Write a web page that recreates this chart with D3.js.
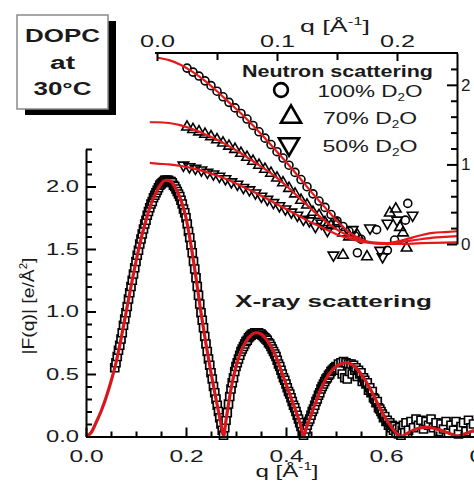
<!DOCTYPE html>
<html><head><meta charset="utf-8">
<script src="https://cdn.jsdelivr.net/npm/d3@7/dist/d3.min.js"></script>
<style>
html,body{margin:0;padding:0;background:#fff;overflow:hidden}
svg{display:block}
text{font-family:"Liberation Sans",Arial,Helvetica,sans-serif;fill:#1a1a1a}
</style></head><body>
<svg id="chart" width="474" height="482"></svg>
<script>
// ---------- DATA ----------
// X-ray form factor |F(q)| data points [q, |F|]
const xrayPoints = [
[.0575,.55],[.0600,.59],[.0625,.64],[.0650,.69],[.0675,.73],[.0700,.78],[.0725,.83],[.0750,.89],[.0775,.94],[.0800,.99],
[.0825,1.04],[.0850,1.10],[.0875,1.15],[.0900,1.20],[.0925,1.25],[.0950,1.30],[.0975,1.35],[.1000,1.40],[.1025,1.45],[.1050,1.49],
[.1075,1.54],[.1100,1.58],[.1125,1.62],[.1150,1.66],[.1175,1.70],[.1200,1.73],[.1225,1.77],[.1250,1.80],[.1275,1.83],[.1300,1.86],
[.1325,1.88],[.1350,1.91],[.1375,1.93],[.1400,1.95],[.1425,1.97],[.1450,1.99],[.1475,2.01],[.1500,2.02],[.1525,2.03],[.1550,2.04],
[.1575,2.05],[.1600,2.05],[.1625,2.05],[.1650,2.05],[.1675,2.04],[.1700,2.04],[.1725,2.03],[.1750,2.01],[.1775,2.00],[.1800,1.98],
[.1825,1.96],[.1850,1.94],[.1875,1.92],[.1900,1.89],[.1925,1.86],[.1950,1.82],[.1975,1.79],[.2000,1.75],[.2025,1.70],[.2050,1.64],
[.2075,1.59],[.2100,1.53],[.2125,1.47],[.2150,1.40],[.2175,1.34],[.2200,1.27],[.2225,1.20],[.2250,1.13],[.2275,1.06],[.2300,0.99],
[.2325,0.93],[.2350,0.87],[.2375,0.80],[.2400,0.74],[.2425,0.68],[.2450,0.62],[.2475,0.57],[.2500,0.51],[.2525,0.46],[.2550,0.40],
[.2575,0.35],[.2600,0.30],[.2625,0.25],[.2650,0.20],[.2675,0.15],[.2700,0.10],[.2725,0.05],[.2750,0.01],[.2775,0.07],[.2800,0.13],
[.2825,0.19],[.2850,0.26],[.2875,0.32],[.2900,0.38],[.2925,0.43],[.2950,0.47],[.2975,0.52],[.3000,0.56],[.3025,0.59],[.3050,0.62],
[.3075,0.65],[.3100,0.68],[.3125,0.70],[.3150,0.72],[.3175,0.74],[.3200,0.76],[.3225,0.77],[.3250,0.79],[.3275,0.80],[.3300,0.81],
[.3325,0.82],[.3350,0.82],[.3375,0.83],[.3400,0.83],[.3425,0.83],[.3450,0.83],[.3475,0.82],[.3500,0.82],[.3525,0.81],[.3550,0.80],
[.3575,0.79],[.3600,0.78],[.3625,0.77],[.3650,0.75],[.3675,0.74],[.3700,0.72],[.3725,0.70],[.3750,0.68],[.3775,0.66],[.3800,0.64],
[.3825,0.61],[.3850,0.58],[.3875,0.56],[.3900,0.53],[.3925,0.50],[.3950,0.47],[.3975,0.45],[.4000,0.42],[.4025,0.39],[.4050,0.36],
[.4075,0.34],[.4100,0.31],[.4125,0.28],[.4150,0.25],[.4175,0.23],[.4200,0.20],[.4225,0.17],[.4250,0.14],[.4275,0.11],[.4300,0.08],
[.4325,0.04],[.4350,0.01],[.4375,0.03],[.4400,0.06],[.4425,0.09],[.4450,0.12],[.4475,0.14],[.4500,0.17],[.4525,0.20],[.4550,0.22],
[.4575,0.25],[.4600,0.28],[.4625,0.30],[.4650,0.33],[.4675,0.35],[.4700,0.38],[.4725,0.40],[.4750,0.42],[.4775,0.44],[.4800,0.46],
[.4825,0.47],[.4850,0.49],[.4875,0.50],[.4900,0.52],[.4925,0.53],[.4950,0.54],[.4975,0.55],[.5000,0.56],[.5025,0.55],[.5050,0.58],
[.5075,0.53],[.5100,0.59],[.5125,0.50],[.5150,0.60],[.5175,0.47],[.5200,0.59],[.5225,0.46],[.5250,0.58],[.5275,0.52],[.5300,0.58],
[.5325,0.50],[.5350,0.57],[.5375,0.53],[.5400,0.55],[.5425,0.48],[.5450,0.53],[.5475,0.50],[.5500,0.51],[.5525,0.44],[.5550,0.47],
[.5575,0.45],[.5600,0.42],[.5625,0.43],[.5650,0.37],[.5675,0.39],[.5700,0.35],[.5725,0.36],[.5750,0.31],[.5775,0.30],[.5800,0.27],
[.5825,0.28],[.5850,0.23],[.5875,0.22],[.5900,0.20],[.5925,0.18],[.5950,0.15],[.5975,0.16],[.6000,0.12],[.6025,0.13],[.6050,0.09],
[.6075,0.11],[.6100,0.07],[.6125,0.09],[.6150,0.05],[.6175,0.08],[.6200,0.03],[.6225,0.06],[.6250,0.02],[.6275,0.07],[.6300,0.01],
[.6325,0.05],[.6350,0.09],[.6375,0.03],[.6400,0.11],[.645,0.05],[.650,0.12],[.655,0.07],[.660,0.14],[.665,0.09],[.670,0.13],
[.675,0.06],[.680,0.12],[.685,0.09],[.690,0.14],[.695,0.07],[.700,0.11],[.705,0.04],[.710,0.10],[.715,0.06],[.720,0.12],
[.725,0.03],[.730,0.09],[.735,0.05],[.740,0.12],[.745,0.02],[.750,0.08],[.755,0.11],[.760,0.04],[.765,0.13],[.770,0.07],[.775,0.10]
];
// X-ray model fit |F(q)|
const xrayFit = [
[0,0],[.01,.03],[.02,.11],[.03,.20],[.04,.31],[.05,.44],[.06,.59],[.07,.78],[.08,.99],[.09,1.20],[.10,1.40],
[.11,1.58],[.12,1.73],[.13,1.86],[.14,1.95],[.15,2.02],[.16,2.05],[.17,2.04],[.18,1.98],[.19,1.89],[.20,1.75],
[.21,1.53],[.22,1.27],[.23,.99],[.24,.74],[.25,.51],[.26,.30],[.27,.10],[.275,0],[.28,.13],[.29,.38],[.30,.56],
[.31,.68],[.32,.76],[.33,.81],[.34,.83],[.35,.82],[.36,.78],[.37,.72],[.38,.64],[.39,.53],[.40,.42],[.41,.31],
[.42,.20],[.43,.08],[.435,0],[.44,.06],[.45,.17],[.46,.28],[.47,.38],[.48,.46],[.49,.52],[.50,.56],[.51,.58],
[.52,.59],[.53,.58],[.54,.55],[.55,.50],[.56,.44],[.57,.37],[.58,.29],[.59,.21],[.60,.14],[.61,.08],[.62,.03],
[.63,0],[.64,.02],[.65,.04],[.66,.06],[.67,.07],[.68,.075],[.69,.07],[.70,.06],[.71,.05],[.72,.035],[.73,.02],
[.74,.005],[.75,.01],[.76,.025],[.77,.04],[.78,.05]
];
// Neutron data (inset): 100% D2O (circles), 70% D2O (up triangles), 50% D2O (down triangles)
const n100Data = [
[.025,2.21],[.030,2.16],[.035,2.11],[.040,2.05],[.045,1.99],[.050,1.92],[.055,1.85],[.060,1.78],[.065,1.71],[.070,1.64],
[.075,1.57],[.080,1.49],[.085,1.41],[.090,1.33],[.095,1.25],[.100,1.16],[.105,1.08],[.110,.99],[.115,.90],[.120,.81],
[.125,.72],[.130,.63],[.135,.54],[.140,.46],[.145,.37],[.150,.29],[.155,.22],[.160,.16],[.165,.10],[.170,.06],
[.167,-.11],[.183,.18],[.192,-.08],[.198,.05],[.207,.30],[.209,.51]
];
const n70Data = [
[.025,1.47],[.030,1.44],[.035,1.41],[.040,1.38],[.045,1.35],[.050,1.31],[.055,1.27],[.060,1.23],[.065,1.19],[.070,1.14],
[.075,1.09],[.080,1.04],[.085,.99],[.090,.94],[.095,.89],[.100,.83],[.105,.77],[.110,.70],[.115,.63],[.120,.55],
[.125,.49],[.130,.40],[.135,.36],[.140,.27],[.145,.23],[.150,.26],[.155,.14],[.160,.09],[.167,.11],
[.155,-.14],[.175,-.16],[.194,.39],[.199,.44],[.2025,.21],[.205,.14],[.208,-.05]
];
const n50Data = [
[.022,.99],[.027,.97],[.032,.95],[.037,.93],[.042,.90],[.047,.88],[.052,.85],[.057,.82],[.062,.78],[.067,.75],
[.072,.71],[.077,.68],[.082,.64],[.087,.60],[.092,.56],[.097,.52],[.102,.48],[.107,.44],[.112,.40],[.117,.36],
[.122,.31],[.127,.29],[.132,.22],[.137,.26],[.142,.17],
[.147,-.14],[.163,.18],[.1775,.20],[.186,-.08],[.188,-.16],[.192,.26],[.200,.30],[.213,.36]
];
// Neutron model fits
const n100Fit = [[0,2.34],[.01,2.31],[.02,2.25],[.03,2.16],[.04,2.05],[.05,1.92],[.06,1.78],[.07,1.64],[.08,1.49],[.09,1.33],[.10,1.16],[.11,.99],[.12,.81],[.13,.63],[.14,.46],[.15,.29],[.16,.15],[.17,.06],[.18,.01],[.19,0],[.20,.03],[.21,.07],[.22,.11],[.23,.14],[.24,.15],[.25,.16]];
const n70Fit = [[-.006,1.53],[0,1.53],[.01,1.52],[.02,1.49],[.03,1.44],[.04,1.38],[.05,1.31],[.06,1.23],[.07,1.14],[.08,1.04],[.09,.94],[.10,.83],[.11,.70],[.12,.56],[.13,.42],[.14,.29],[.15,.18],[.16,.10],[.17,.05],[.18,.02],[.19,.01],[.20,.02],[.21,.04],[.22,.06],[.23,.08],[.24,.09],[.25,.10]];
const n50Fit = [[-.006,1.02],[0,1.01],[.01,1.00],[.02,.98],[.03,.95],[.04,.91],[.05,.86],[.06,.80],[.07,.73],[.08,.66],[.09,.58],[.10,.50],[.11,.42],[.12,.34],[.13,.26],[.14,.19],[.15,.12],[.16,.07],[.17,.03],[.18,.01],[.19,0],[.20,0],[.22,.01],[.25,.02]];

// Ticks and labels
const mainXTicks = [0, 0.2, 0.4, 0.6, 0.8];
const mainXMinor = [0.05,0.1,0.15,0.25,0.3,0.35,0.45,0.5,0.55,0.65,0.7,0.75];
const mainYTicks = [0, 0.5, 1.0, 1.5, 2.0];
const mainYMinor = [0.1,0.2,0.3,0.4,0.6,0.7,0.8,0.9,1.1,1.2,1.3,1.4,1.6,1.7,1.8,1.9,2.1,2.2,2.3];
const insetXTicks = [0, 0.1, 0.2];
const insetXMinor = [0.05, 0.15];
const insetYTicks = [0, 1, 2];
const insetYMinor = [0.2,0.4,0.6,0.8,1.2,1.4,1.6,1.8,2.2];
const legendLabels = ["100% D", "70% D", "50% D"];
const boxLines = ["DOPC", "at", "30°C"];

// ---------- DRAW ----------
const svg = d3.select("#chart");
const FONT = '"Liberation Sans",Arial,Helvetica,sans-serif';

const xM = d3.scaleLinear().domain([0, 0.8]).range([86, 486]);
const yM = d3.scaleLinear().domain([0, 2.3]).range([436.5, 149]);
const xI = d3.scaleLinear().domain([0, 0.25]).range([157, 457]);
const yI = d3.scaleLinear().domain([0, 2.4]).range([244, 53]);

function styleAxis(g, fs) {
  g.attr("font-family", FONT).attr("font-size", fs);
  g.select(".domain").attr("stroke", "#000").attr("stroke-width", 2);
  g.selectAll(".tick line").attr("stroke", "#000").attr("stroke-width", 2);
  g.selectAll(".tick text").attr("fill", "#222");
}

// X-ray data squares
svg.append("g").selectAll("path").data(xrayPoints).join("path")
  .attr("d", d3.symbol().type(d3.symbolSquare).size(64)())
  .attr("transform", d => `translate(${xM(d[0])},${yM(d[1])})`)
  .attr("fill", "#fff").attr("stroke", "#000").attr("stroke-width", 1.7);

// X-ray fit
svg.append("path").datum(xrayFit)
  .attr("d", d3.line().x(d => xM(d[0])).y(d => yM(d[1])).curve(d3.curveMonotoneX))
  .attr("fill", "none").attr("stroke", "#d8171c").attr("stroke-width", 3.2);

// Neutron data symbols
const sym = (t, s) => d3.symbol().type(t).size(s)();
svg.append("g").selectAll("path").data(n50Data).join("path")
  .attr("d", sym(d3.symbolTriangle, 48))
  .attr("transform", d => `translate(${xI(d[0])},${yI(d[1])}) rotate(180)`)
  .attr("fill", "none").attr("stroke", "#000").attr("stroke-width", 1.6);
svg.append("g").selectAll("path").data(n70Data).join("path")
  .attr("d", sym(d3.symbolTriangle, 48))
  .attr("transform", d => `translate(${xI(d[0])},${yI(d[1])})`)
  .attr("fill", "none").attr("stroke", "#000").attr("stroke-width", 1.6);
svg.append("g").selectAll("path").data(n100Data).join("path")
  .attr("d", sym(d3.symbolCircle, 50))
  .attr("transform", d => `translate(${xI(d[0])},${yI(d[1])})`)
  .attr("fill", "none").attr("stroke", "#000").attr("stroke-width", 1.6);

// Neutron fits
const lineI = d3.line().x(d => xI(d[0])).y(d => yI(d[1])).curve(d3.curveMonotoneX);
[n100Fit, n70Fit, n50Fit].forEach(f => {
  svg.append("path").datum(f).attr("d", lineI)
    .attr("fill", "none").attr("stroke", "#e3191c").attr("stroke-width", 2.2);
});

// Main axes
svg.append("g").attr("transform", "translate(0,436.5)")
  .call(d3.axisBottom(xM).tickValues(mainXMinor).tickFormat("").tickSizeInner(-5).tickSizeOuter(0))
  .call(g => { g.select(".domain").remove(); g.selectAll(".tick line").attr("stroke","#000").attr("stroke-width",2); });
svg.append("g").attr("transform", "translate(0,436.5)")
  .call(d3.axisBottom(xM).tickValues(mainXTicks).tickFormat(d3.format(".1f")).tickSizeInner(-9).tickSizeOuter(0).tickPadding(14))
  .call(g => { styleAxis(g, 16); g.selectAll(".tick text").attr("textLength", 34).attr("lengthAdjust", "spacingAndGlyphs"); });

svg.append("g").attr("transform", "translate(86,0)")
  .call(d3.axisLeft(yM).tickValues(mainYMinor).tickFormat("").tickSizeInner(-6).tickSizeOuter(0))
  .call(g => { g.select(".domain").remove(); g.selectAll(".tick line").attr("stroke","#000").attr("stroke-width",2); });
svg.append("g").attr("transform", "translate(86,0)")
  .call(d3.axisLeft(yM).tickValues(mainYTicks).tickFormat(d3.format(".1f")).tickSizeInner(-10).tickSizeOuter(0).tickPadding(7))
  .call(g => { styleAxis(g, 16); g.selectAll(".tick text").attr("textLength", 33).attr("lengthAdjust", "spacingAndGlyphs"); });

// Inset axes
svg.append("g").attr("transform", "translate(0,53)")
  .call(d3.axisTop(xI).tickValues(insetXMinor).tickFormat("").tickSizeInner(-7).tickSizeOuter(0))
  .call(g => { g.select(".domain").remove(); g.selectAll(".tick line").attr("stroke","#000").attr("stroke-width",2); });
svg.append("g").attr("transform", "translate(0,53)")
  .call(d3.axisTop(xI).tickValues(insetXTicks).tickFormat(d3.format(".1f")).tickSizeInner(-8).tickSizeOuter(0).tickPadding(6))
  .call(g => { styleAxis(g, 16); g.select(".domain").attr("d", "M155,0H458");
               g.selectAll(".tick text").attr("textLength", 35).attr("lengthAdjust", "spacingAndGlyphs"); });

svg.append("g").attr("transform", "translate(457,0)")
  .call(d3.axisRight(yI).tickValues(insetYMinor).tickFormat("").tickSizeInner(-6).tickSizeOuter(0))
  .call(g => { g.select(".domain").remove(); g.selectAll(".tick line").attr("stroke","#000").attr("stroke-width",2); });
svg.append("g").attr("transform", "translate(457,0)")
  .call(d3.axisRight(yI).tickValues(insetYTicks).tickFormat(d3.format("d")).tickSizeInner(-10).tickSizeOuter(0).tickPadding(4))
  .call(g => { styleAxis(g, 17); });

// Axis titles
function qLabel(x, y, tl) {
  const t = svg.append("text").attr("x", x).attr("y", y).attr("text-anchor", "middle")
    .attr("font-size", 16).attr("textLength", tl).attr("lengthAdjust", "spacingAndGlyphs");
  t.append("tspan").text("q [Å");
  t.append("tspan").attr("font-size", 10).attr("dy", -7).text("-1");
  t.append("tspan").attr("dy", 7).text("]");
}
qLabel(287, 477, 63);
qLabel(335, 32, 70);

const yt = svg.append("text").attr("transform", "translate(34,306) rotate(-90)")
  .attr("text-anchor", "middle").attr("font-size", 17)
  .attr("textLength", 97).attr("lengthAdjust", "spacingAndGlyphs");
yt.append("tspan").text("|F(q)| [e/Å");
yt.append("tspan").attr("font-size", 10).attr("dy", -7).text("2");
yt.append("tspan").attr("dy", 7).text("]");

// Annotations
svg.append("text").attr("x", 333.5).attr("y", 307).attr("text-anchor", "middle")
  .attr("font-size", 17).attr("font-weight", "bold")
  .attr("textLength", 197).attr("lengthAdjust", "spacingAndGlyphs").text("X-ray scattering");

svg.append("text").attr("x", 337.5).attr("y", 77).attr("text-anchor", "middle")
  .attr("font-size", 17).attr("font-weight", "bold")
  .attr("textLength", 191).attr("lengthAdjust", "spacingAndGlyphs").text("Neutron scattering");

// Legend
const legY = [90, 117, 144];
const legTextY = [97, 124, 152];
const legTL = [105, 94, 95];
const legSym = [
  {t: d3.symbolCircle, s: 150, x: 281, r: 0},
  {t: d3.symbolTriangle, s: 175, x: 291, r: 0},
  {t: d3.symbolTriangle, s: 175, x: 289, r: 180}
];
legendLabels.forEach((lab, i) => {
  svg.append("path").attr("d", sym(legSym[i].t, legSym[i].s))
    .attr("transform", `translate(${legSym[i].x},${legY[i]}) rotate(${legSym[i].r})`)
    .attr("fill", "none").attr("stroke", "#000").attr("stroke-width", 2.6);
  const t = svg.append("text").attr("x", 370).attr("y", legTextY[i]).attr("text-anchor", "middle")
    .attr("font-size", 17).attr("fill", "#2a2a2a")
    .attr("textLength", legTL[i]).attr("lengthAdjust", "spacingAndGlyphs");
  t.append("tspan").text(lab);
  t.append("tspan").attr("font-size", 10).attr("dy", 4).text("2");
  t.append("tspan").attr("dy", -4).text("O");
});

// DOPC box with shadow
svg.append("rect").attr("x", 25).attr("y", 21).attr("width", 91).attr("height", 94).attr("fill", "#000");
svg.append("rect").attr("x", 17).attr("y", 15).attr("width", 91).attr("height", 94)
  .attr("fill", "#fff").attr("stroke", "#8a8a8a").attr("stroke-width", 1.5);
const boxY = [42, 69, 95], boxTL = [75, 25, 58];
boxLines.forEach((s, i) => {
  svg.append("text").attr("x", 62.5).attr("y", boxY[i]).attr("text-anchor", "middle")
    .attr("font-size", 18).attr("font-weight", "bold")
    .attr("textLength", boxTL[i]).attr("lengthAdjust", "spacingAndGlyphs").text(s);
});
</script></body></html>
